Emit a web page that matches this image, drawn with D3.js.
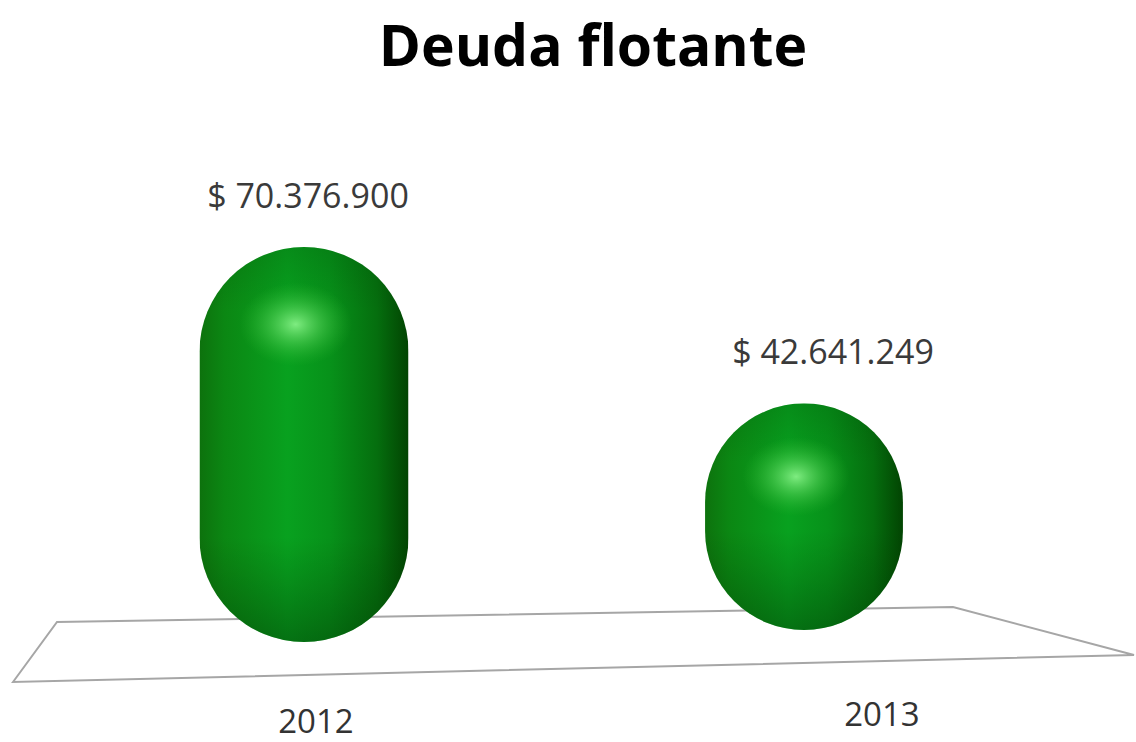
<!DOCTYPE html>
<html lang="es">
<head>
    <meta charset="UTF-8">
    <title>Deuda flotante</title>
    <script src="https://d3js.org/d3.v7.min.js"></script>
    <style>
        body { margin: 0; background: #fff; }
        .title { font-family: "Open Sans", sans-serif; font-weight: bold; font-size: 57px; fill: #000; }
        .value { font-family: "Open Sans", sans-serif; font-size: 34px; fill: #3a3a3a; }
        .cat { font-family: "Open Sans", sans-serif; font-size: 33px; fill: #333; }
    </style>
</head>
<body>
<svg id="chart" width="1136" height="742"></svg>
<script>
    // data
    const categories = ["2012", "2013"];
    const values = [70376900, 42641249];

    const svg = d3.select("#chart");

    // es-style currency: "$ 70.376.900"
    const locale = d3.formatLocale({ decimal: ",", thousands: ".", grouping: [3], currency: ["$ ", ""] });
    const fmt = locale.format("$,d");

    // floor of the 3D plot (perspective quad)
    const floorPts = [[13, 682], [57, 622], [953, 607], [1134, 655]];
    svg.append("path")
        .attr("d", d3.line()(floorPts) + "Z")
        .attr("fill", "none")
        .attr("stroke", "#a6a6a6")
        .attr("stroke-width", 2);

    // scales
    const x = d3.scalePoint().domain(categories).range([304, 804]);
    const xLabel = d3.scalePoint().domain(categories).range([308, 833]);
    const xCat = d3.scalePoint().domain(categories).range([316, 882]);
    const base = d3.scaleLinear().domain([304, 804]).range([642, 630]);     // floor depth at bar
    const persp = d3.scaleLinear().domain([304, 804]).range([1, 0.947]);   // perspective shrink
    const catY = d3.scaleLinear().domain([316, 882]).range([733, 726]);
    const y = d3.scaleLinear().domain([0, d3.max(values)]).range([0, 395]);
    const barW = 209;

    const bars = categories.map((c, i) => {
        const cx = x(c);
        const k = persp(cx);
        const w = barW * k;
        const h = Math.max(y(values[i]) * k, w);
        const bottom = base(cx);
        return { c, v: values[i], i, cx, w, h, top: bottom - h, left: cx - w / 2 };
    });

    const defs = svg.append("defs");

    // horizontal shading of the cylinder body
    const side = defs.append("linearGradient").attr("id", "side")
        .attr("x1", 0).attr("x2", 1).attr("y1", 0).attr("y2", 0);
    [[0, "#0d720d"], [0.12, "#0b8713"], [0.42, "#08a11f"], [0.62, "#07921a"], [0.85, "#056e0e"], [1, "#024402"]]
        .forEach(s => side.append("stop").attr("offset", s[0]).attr("stop-color", s[1]));

    const glow = defs.append("radialGradient").attr("id", "glow");
    glow.append("stop").attr("offset", 0).attr("stop-color", "#8cf58c").attr("stop-opacity", 0.9);
    glow.append("stop").attr("offset", 0.45).attr("stop-color", "#5ed85e").attr("stop-opacity", 0.5);
    glow.append("stop").attr("offset", 1).attr("stop-color", "#2fb82f").attr("stop-opacity", 0);

    bars.forEach(b => {
        const r = b.w / 2;
        // vertical darkening on the caps
        const vg = defs.append("linearGradient").attr("id", "vert" + b.i)
            .attr("x1", 0).attr("x2", 0).attr("y1", 0).attr("y2", 1);
        const capT = r * 0.6 / b.h;
        const capB = 1 - r / b.h;
        vg.append("stop").attr("offset", 0).attr("stop-color", "#003a00").attr("stop-opacity", 0.2);
        vg.append("stop").attr("offset", capT).attr("stop-color", "#003a00").attr("stop-opacity", 0);
        vg.append("stop").attr("offset", capB).attr("stop-color", "#003a00").attr("stop-opacity", 0);
        vg.append("stop").attr("offset", 1).attr("stop-color", "#002a00").attr("stop-opacity", 0.4);

        defs.append("clipPath").attr("id", "clip" + b.i)
            .append("rect")
            .attr("x", b.left).attr("y", b.top).attr("width", b.w).attr("height", b.h)
            .attr("rx", r).attr("ry", r);
    });

    const g = svg.append("g").selectAll("g").data(bars).join("g")
        .attr("clip-path", d => `url(#clip${d.i})`);

    g.append("rect")
        .attr("x", d => d.left).attr("y", d => d.top)
        .attr("width", d => d.w).attr("height", d => d.h)
        .attr("fill", "url(#side)");

    g.append("rect")
        .attr("x", d => d.left).attr("y", d => d.top)
        .attr("width", d => d.w).attr("height", d => d.h)
        .attr("fill", d => `url(#vert${d.i})`);

    g.append("ellipse")
        .attr("cx", d => d.left + d.w * 0.46)
        .attr("cy", d => d.top + d.w * 0.37)
        .attr("rx", d => d.w * 0.27)
        .attr("ry", d => d.w * 0.2)
        .attr("fill", "url(#glow)");

    // value labels
    svg.selectAll(".value").data(bars).join("text")
        .attr("class", "value")
        .attr("text-anchor", "middle")
        .attr("x", d => xLabel(d.c))
        .attr("y", d => d.top - 39)
        .text(d => fmt(d.v));

    // category labels
    svg.selectAll(".cat").data(categories).join("text")
        .attr("class", "cat")
        .attr("text-anchor", "middle")
        .attr("x", d => xCat(d))
        .attr("y", d => catY(xCat(d)))
        .text(d => d);

    svg.append("text")
        .attr("class", "title")
        .attr("text-anchor", "middle")
        .attr("x", 593)
        .attr("y", 66)
        .text("Deuda flotante");
</script>
</body>
</html>
